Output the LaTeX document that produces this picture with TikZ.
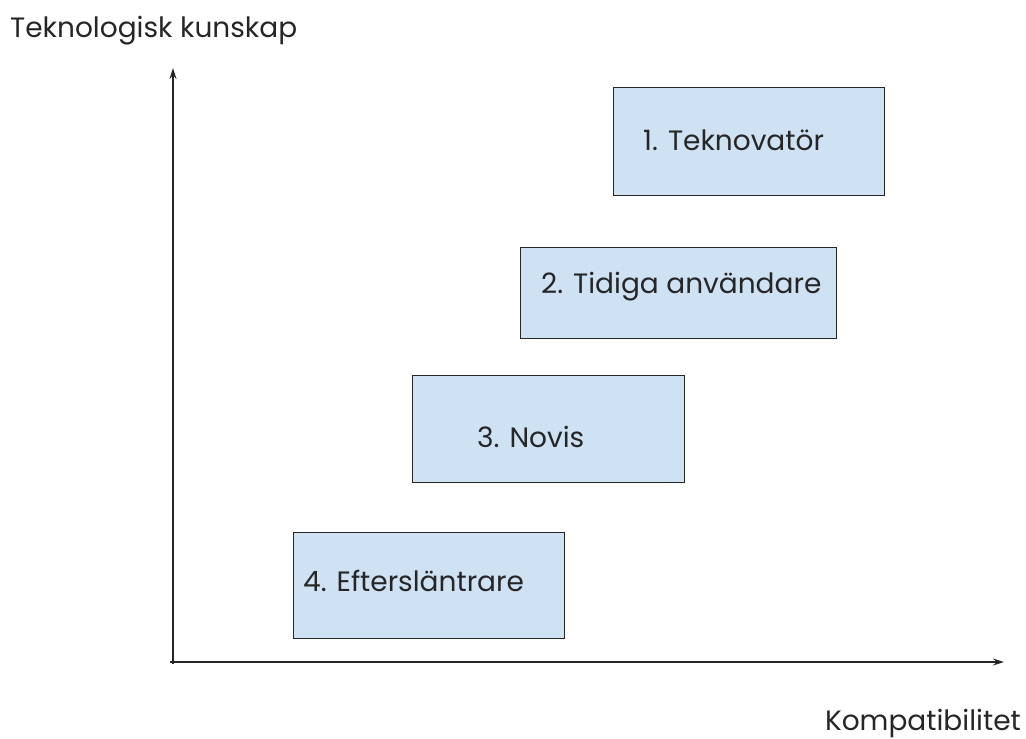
\documentclass[tikz,border=0pt]{standalone}
\usepackage{fontspec}
\setmainfont{Poppins}
\usetikzlibrary{arrows.meta}
\definecolor{boxfill}{HTML}{CFE2F3}
\definecolor{ink}{HTML}{262626}
\begin{document}
\begin{tikzpicture}[x=1pt,y=-1pt,
  stage/.style={draw=ink,line width=1.3pt,fill=boxfill},
  stagetext/.style={anchor=base west,inner sep=0pt,font=\fontsize{28}{32}\selectfont,text=ink},
  axislabel/.style={inner sep=0pt,font=\fontsize{28}{32}\selectfont,text=ink},
  axis/.style={draw=ink,line width=1.4pt,-{Stealth[length=11pt,width=7pt]}}]
\useasboundingbox (0,0) rectangle (1026,739);
% axes
\coordinate (origin) at (173,662);
\coordinate (ytop) at (173,68);
\coordinate (xend) at (1004,662);
\draw[axis] (170,662) -- (xend);
\draw[axis] (173,664) -- (ytop);
% axis labels
\node[axislabel,anchor=base west] (ylab) at (10,37) {Teknologisk kunskap};
\node[axislabel,anchor=base east] (xlab) at (1021,730) {Kompatibilitet};
% stage boxes
\node[stage,minimum width=271pt,minimum height=108pt,anchor=north west] (b1) at (613,87) {};
\node[stage,minimum width=316pt,minimum height=91pt,anchor=north west] (b2) at (520,247) {};
\node[stage,minimum width=272pt,minimum height=107pt,anchor=north west] (b3) at (412,375) {};
\node[stage,minimum width=271pt,minimum height=106pt,anchor=north west] (b4) at (293,532) {};
% stage labels
\node[stagetext] (t1) at (643,150) {1. Teknovatör};
\node[stagetext] (t2) at (541,293) {2. Tidiga användare};
\node[stagetext] (t3) at (477,447) {3. Novis};
\node[stagetext] (t4) at (303,591) {4. Eftersläntrare};
\end{tikzpicture}
\end{document}
